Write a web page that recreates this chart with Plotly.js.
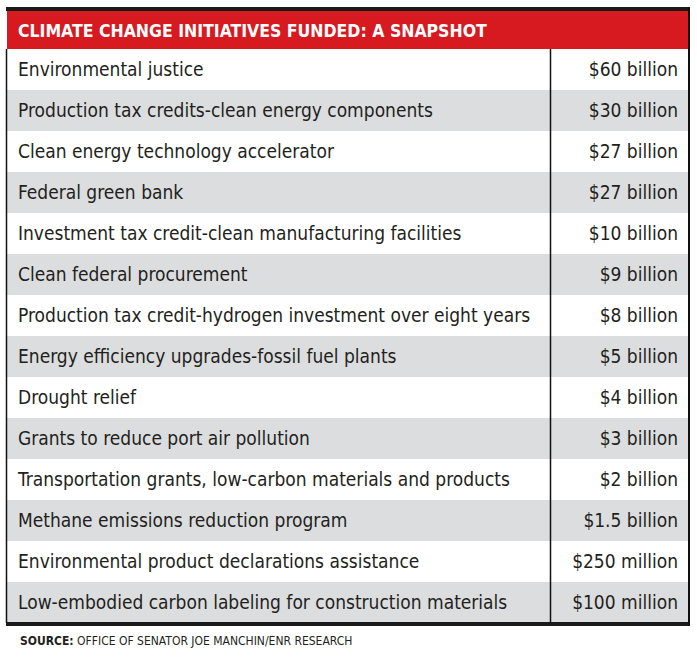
<!DOCTYPE html>
<html>
<head>
<meta charset="utf-8">
<script src="https://cdn.plot.ly/plotly-3.0.1.min.js"></script>
<style>
  html, body { margin: 0; padding: 0; background: #ffffff; }
  #chart { width: 697px; height: 659px; }
</style>
</head>
<body>
<div id="chart"></div>
<script>
// ---- Data ----
const titleText = "CLIMATE CHANGE INITIATIVES FUNDED: A SNAPSHOT";
const initiatives = [
  "Environmental justice",
  "Production tax credits-clean energy components",
  "Clean energy technology accelerator",
  "Federal green bank",
  "Investment tax credit-clean manufacturing facilities",
  "Clean federal procurement",
  "Production tax credit-hydrogen investment over eight years",
  "Energy efficiency upgrades-fossil fuel plants",
  "Drought relief",
  "Grants to reduce port air pollution",
  "Transportation grants, low-carbon materials and products",
  "Methane emissions reduction program",
  "Environmental product declarations assistance",
  "Low-embodied carbon labeling for construction materials"
];
const amounts = [
  "$60 billion",
  "$30 billion",
  "$27 billion",
  "$27 billion",
  "$10 billion",
  "$9 billion",
  "$8 billion",
  "$5 billion",
  "$4 billion",
  "$3 billion",
  "$2 billion",
  "$1.5 billion",
  "$250 million",
  "$100 million"
];
const sourceLabel = "SOURCE:";
const sourceText = "OFFICE OF SENATOR JOE MANCHIN/ENR RESEARCH";

// ---- Styling ----
const W = 697, H = 659;
const FONT = '"Liberation Sans Narrow", "Arial Narrow", "DejaVu Sans Condensed", sans-serif';
const RED = '#d71920';
const GRAY = '#dcdddf';
const INK = '#231f20';
const CLEAR = 'rgba(0,0,0,0)';
const px = v => v / W;
const py = v => 1 - v / H;

const rowFill = initiatives.map((_, i) => (i % 2 === 0 ? '#ffffff' : GRAY));
const blank = initiatives.map(() => '');

// Background table: row stripes and red header band (same rows as the data)
const bgTable = {
  type: 'table',
  domain: { x: [px(7), px(689)], y: [py(626), py(11)] },
  columnwidth: [543, 139],
  header: {
    values: ['', ''],
    height: 38,
    fill: { color: RED },
    line: { width: 0, color: RED },
    font: { family: FONT, size: 17.5, color: '#ffffff' }
  },
  cells: {
    values: [blank, blank],
    height: 41,
    fill: { color: [rowFill, rowFill] },
    line: { width: 0, color: [rowFill, rowFill] },
    font: { family: FONT, size: 19, color: INK }
  }
};

// Text table: the data, drawn on a transparent table offset to centre text vertically
const textTable = {
  type: 'table',
  domain: { x: [px(10), px(686)], y: [py(631), py(16)] },
  columnwidth: [540, 136],
  header: {
    values: [titleText, ''],
    align: ['left', 'right'],
    height: 38,
    fill: { color: CLEAR },
    line: { width: 0, color: CLEAR },
    font: { family: FONT, size: 17.5, color: '#ffffff', weight: 'bold' }
  },
  cells: {
    values: [initiatives, amounts],
    align: ['left', 'right'],
    height: 41,
    fill: { color: CLEAR },
    line: { width: 0, color: CLEAR },
    font: { family: FONT, size: 19, color: INK }
  }
};

const lineStyle = (w) => ({ color: '#111111', width: w });
const shapes = [
  // top thick bar
  { type: 'rect', xref: 'paper', yref: 'paper', x0: px(6), x1: px(690), y0: py(11), y1: py(7),
    fillcolor: '#1a1a1a', line: { width: 0 } },
  // bottom thick bar
  { type: 'rect', xref: 'paper', yref: 'paper', x0: px(6), x1: px(690), y0: py(626), y1: py(622),
    fillcolor: '#1a1a1a', line: { width: 0 } },
  // left border
  { type: 'line', xref: 'paper', yref: 'paper', x0: px(6.5), x1: px(6.5), y0: py(49), y1: py(623),
    line: lineStyle(1.5) },
  // right border
  { type: 'line', xref: 'paper', yref: 'paper', x0: px(689), x1: px(689), y0: py(7), y1: py(626),
    line: lineStyle(2) },
  // column divider
  { type: 'line', xref: 'paper', yref: 'paper', x0: px(550.5), x1: px(550.5), y0: py(49), y1: py(623),
    line: lineStyle(1.5) }
];

const annotations = [
  { xref: 'paper', yref: 'paper', x: px(18), y: py(641), xanchor: 'left', yanchor: 'middle',
    showarrow: false, align: 'left',
    text: '<b>' + sourceLabel + '</b> ' + sourceText,
    font: { family: FONT, size: 12, color: INK } }
];

const layout = {
  width: W, height: H, autosize: false,
  margin: { l: 0, r: 0, t: 0, b: 0, pad: 0 },
  paper_bgcolor: '#ffffff',
  plot_bgcolor: '#ffffff',
  shapes: shapes,
  annotations: annotations,
  showlegend: false
};

Plotly.newPlot('chart', [bgTable, textTable], layout, { displayModeBar: false, staticPlot: true });
</script>
</body>
</html>
